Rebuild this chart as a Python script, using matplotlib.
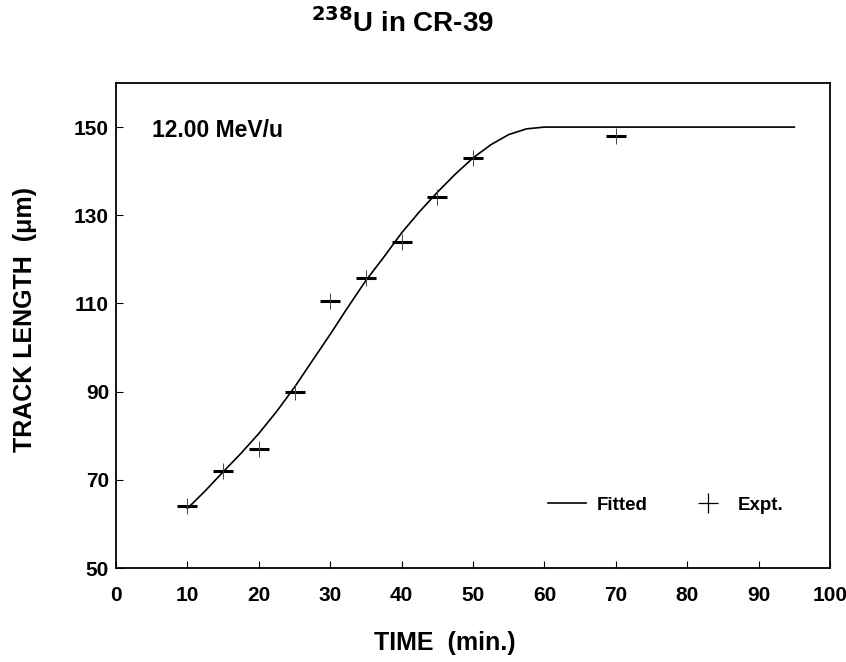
import numpy as np
import matplotlib
matplotlib.use("Agg")
import matplotlib.pyplot as plt
from matplotlib.lines import Line2D

plt.rcParams['font.family'] = ['Liberation Sans', 'DejaVu Sans']
plt.rcParams['font.weight'] = 'bold'

# experimental points (time in min, track length in um)
expt_time = [10, 15, 20, 25, 30, 35, 40, 45, 50, 70]
expt_len = [64.0, 72.0, 77.0, 90.0, 110.6, 115.8, 123.9, 134.2, 143.0, 148.0]

# fitted curve
fit_time = [10, 12.5, 15, 17.5, 20, 22.5, 25, 27.5, 30, 32.5, 35, 37.5, 40,
            42.5, 45, 47.5, 50, 52.5, 55, 57.5, 60, 95]
fit_len = [63.5, 67.5, 71.8, 76.0, 80.5, 85.5, 91.0, 97.0, 103.0, 109.2, 115.2,
           120.5, 126.0, 130.8, 135.2, 139.3, 143.0, 146.0, 148.3, 149.6, 150.0, 150.0]

xticks = np.arange(0, 101, 10)
yticks = np.arange(50, 151, 20)

fig = plt.figure(figsize=(8.46, 6.62), dpi=100)
ax = fig.add_axes([116/846, 1 - 568/662, (830-116)/846, (568-83)/662])

ax.plot(fit_time, fit_len, color='black', lw=1.2)
# scanned crosses: heavy horizontal bar, faint vertical one
ax.plot(expt_time, expt_len, ls='none', marker='_', ms=15, mew=2.2, color='black')
ax.plot(expt_time, expt_len, ls='none', marker='|', ms=12, mew=0.7, color='#444444')

ax.set_xlim(0, 100)
ax.set_ylim(50, 160)
ax.set_xticks(xticks)
ax.set_yticks(yticks)
ax.tick_params(direction='in', length=5, width=0.8, labelsize=15)
ax.tick_params(axis='x', pad=13)
ax.tick_params(axis='y', pad=5)
for s in ax.spines.values():
    s.set_linewidth(1.3)

ax.text(5.0, 147.7, '12.00 MeV/u', fontsize=16.5, fontweight='bold')

handles = [Line2D([], [], color='black', lw=1.2),
           Line2D([], [], ls='none', marker='+', ms=14, mew=0.9, color='black')]
ax.legend(handles, ['Fitted', 'Expt.'], loc='center', bbox_to_anchor=(0.77, 0.13),
          ncol=2, frameon=False, prop={'size': 13.5, 'weight': 'bold'},
          handlelength=2.0, columnspacing=2.2, handletextpad=0.6)

fig.text(402/846, 1 - 23/662, r'$^{\mathbf{238}}$U in CR-39', ha='center', va='center',
         fontsize=20, fontweight='bold')
fig.text(445/846, 1 - 643/662, 'TIME  (min.)', ha='center', va='center',
         fontsize=18, fontweight='bold')
fig.text(25/846, 1 - 320/662, 'TRACK LENGTH  (\u03bcm)', ha='center', va='center',
         rotation=90, fontsize=18, fontweight='bold')

fig.savefig('out.png', dpi=100)
